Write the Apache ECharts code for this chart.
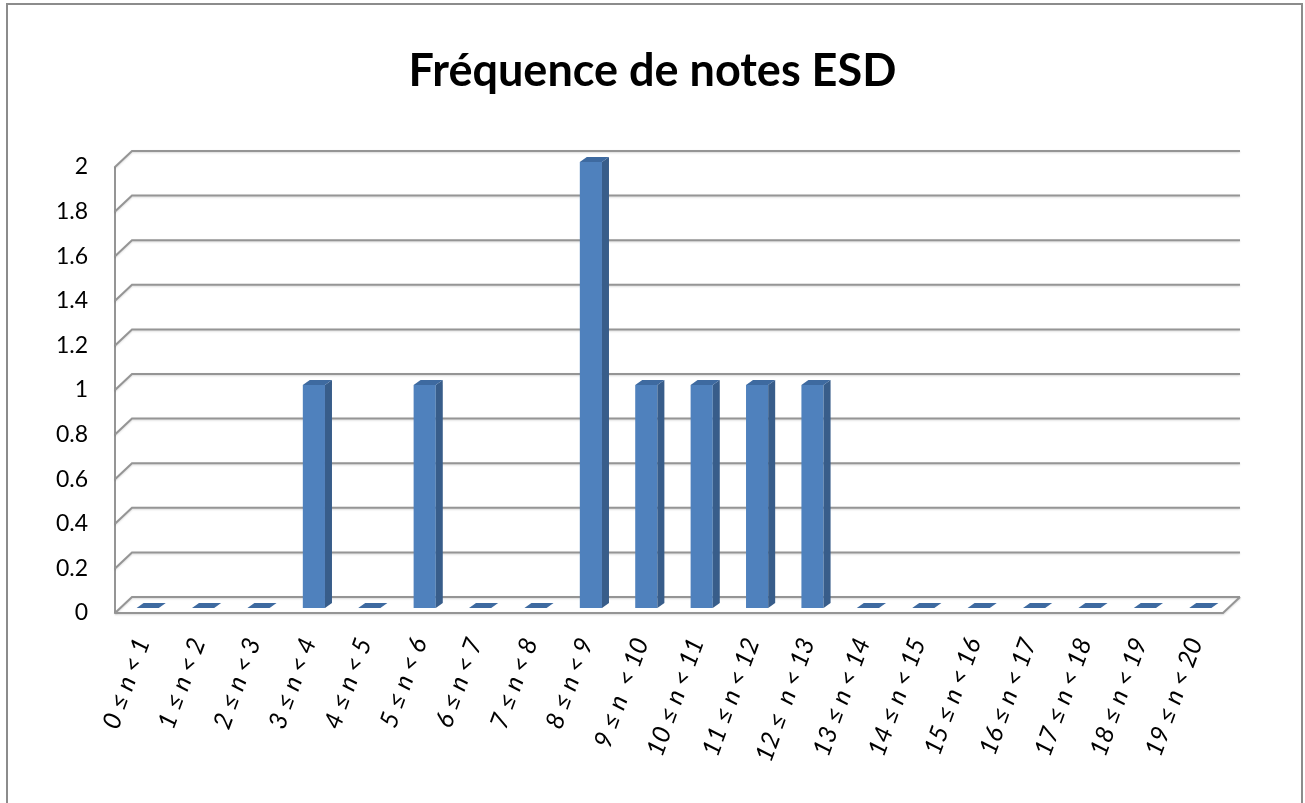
<!DOCTYPE html>
<html>
<head>
<meta charset="utf-8">
<script src="https://cdn.jsdelivr.net/npm/echarts@6/dist/echarts.min.js"></script>
<style>
  html, body { margin: 0; padding: 0; background: #fff; }
  #chart { width: 1305px; height: 803px; }
</style>
</head>
<body>
<div id="chart"></div>
<script>
const categories = [
  '0 ≤ n < 1', '1 ≤ n < 2', '2 ≤ n < 3', '3 ≤ n < 4', '4 ≤ n < 5',
  '5 ≤ n < 6', '6 ≤ n < 7', '7 ≤ n < 8', '8 ≤ n < 9', '9 ≤ n  < 10',
  '10 ≤ n < 11', '11 ≤ n < 12', '12 ≤  n < 13', '13 ≤ n < 14', '14 ≤ n < 15',
  '15 ≤ n < 16', '16 ≤ n < 17', '17 ≤ n < 18', '18 ≤ n < 19', '19 ≤ n < 20'
]
const frequencies = [0, 0, 0, 1, 0, 1, 0, 0, 2, 1, 1, 1, 1, 0, 0, 0, 0, 0, 0, 0]
const yTicks = [0, 0.2, 0.4, 0.6, 0.8, 1, 1.2, 1.4, 1.6, 1.8, 2]

// depth of the back wall and of the bars (pixels)
const wallDx = 17, wallDy = 16
const barShift = 5, barDx = 7, barDy = 5
const gridColor = '#959595'

const chart = echarts.init(document.getElementById('chart'))

const lineStyle = { stroke: gridColor, lineWidth: 2, fill: null, shadowBlur: 2, shadowColor: 'rgba(0,0,0,0.15)', shadowOffsetY: 1 }

const wallSeries = {
  type: 'custom',
  silent: true,
  z: 1,
  data: yTicks.map(v => [0, v]),
  renderItem: (params, api) => {
    const cs = params.coordSys
    const y = api.coord([0, api.value(1)])[1]
    const children = [{
      type: 'polyline',
      shape: { points: [[cs.x, y], [cs.x + wallDx, y - wallDy], [cs.x + cs.width + wallDx, y - wallDy]] },
      style: lineStyle
    }]
    if (api.value(1) === 0) {
      children.push({
        type: 'polyline',
        shape: { points: [[cs.x, y], [cs.x + cs.width, y], [cs.x + cs.width + wallDx, y - wallDy]] },
        style: lineStyle
      })
    }
    return { type: 'group', children }
  }
}

const barSeries = {
  type: 'custom',
  z: 3,
  data: frequencies.map((v, i) => [i, v]),
  renderItem: (params, api) => {
    const base = api.coord([api.value(0), 0])
    const top = api.coord([api.value(0), api.value(1)])
    const w = api.size([1, 0])[0] * 0.4
    const xl = base[0] - w / 2 + barShift
    const xr = xl + w
    const yb = base[1] - barShift
    const yt = top[1] - barShift
    const children = []
    if (yb - yt > 0.5) {
      children.push({
        type: 'rect',
        shape: { x: xl, y: yt, width: w, height: yb - yt },
        style: { fill: '#4f81bd' }
      })
      children.push({
        type: 'polygon',
        shape: { points: [[xr, yt], [xr + barDx, yt - barDy], [xr + barDx, yb - barDy], [xr, yb]] },
        style: { fill: '#385d8a' }
      })
    }
    children.push({
      type: 'polygon',
      shape: { points: [[xl, yt], [xl + barDx, yt - barDy], [xr + barDx, yt - barDy], [xr, yt]] },
      style: { fill: '#3e6aa0' }
    })
    return { type: 'group', children }
  }
}

chart.setOption({
  animation: false,
  backgroundColor: '#fff',
  title: {
    text: 'Fréquence de notes ESD',
    left: 'center',
    top: 44,
    textStyle: { fontFamily: 'Lato', fontWeight: 'bold', fontSize: 45, color: '#000' }
  },
  graphic: [{
    type: 'rect',
    shape: { x: 7, y: 4, width: 1295, height: 820 },
    style: { fill: null, stroke: '#8c8c8c', lineWidth: 2 },
    silent: true
  }],
  grid: { left: 115, right: 82, top: 167, bottom: 190 },
  xAxis: {
    type: 'category',
    data: categories,
    axisLine: { show: false },
    axisTick: { show: false },
    axisLabel: {
      interval: 0,
      rotate: 70,
      margin: 26,
      fontFamily: 'Lato',
      fontStyle: 'italic',
      fontSize: 25,
      color: '#000'
    }
  },
  yAxis: {
    type: 'value',
    min: 0,
    max: 2,
    interval: 0.2,
    axisLine: { show: true, lineStyle: { color: gridColor, width: 2 } },
    axisTick: { show: false },
    splitLine: { show: false },
    axisLabel: { margin: 27, fontFamily: 'Lato', fontSize: 23, color: '#000' }
  },
  series: [wallSeries, barSeries]
})
</script>
</body>
</html>
